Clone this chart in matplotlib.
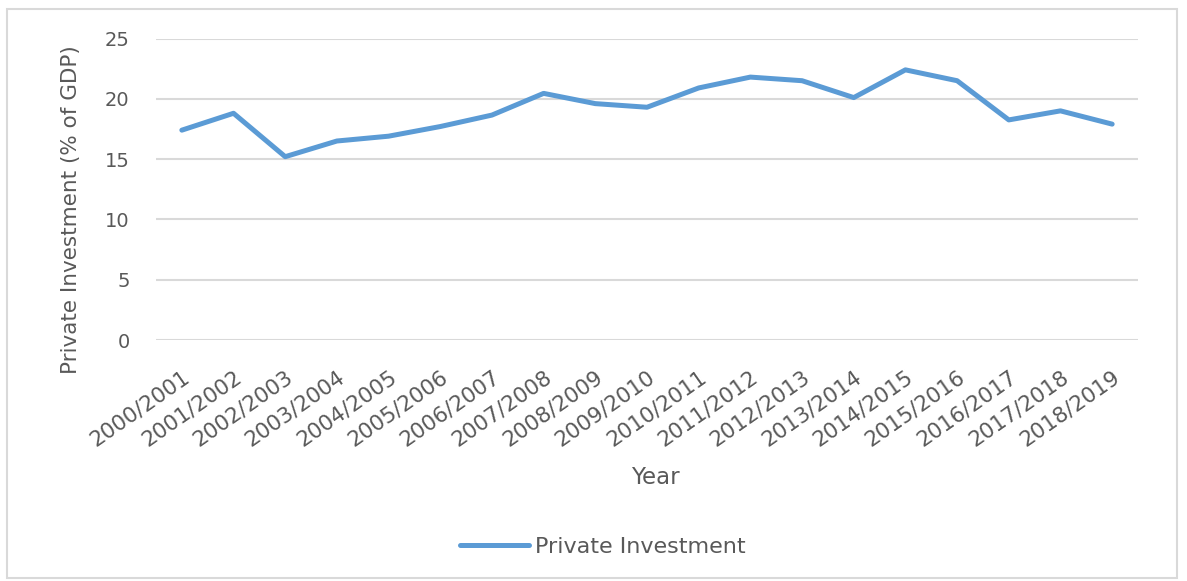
import matplotlib
import matplotlib.pyplot as plt
from matplotlib.patches import Rectangle

# Data
years = ["2000/2001", "2001/2002", "2002/2003", "2003/2004", "2004/2005",
         "2005/2006", "2006/2007", "2007/2008", "2008/2009", "2009/2010",
         "2010/2011", "2011/2012", "2012/2013", "2013/2014", "2014/2015",
         "2015/2016", "2016/2017", "2017/2018", "2018/2019"]
private_investment = [17.4, 18.8, 15.2, 16.5, 16.9, 17.7, 18.65, 20.45, 19.6, 19.3,
                      20.9, 21.8, 21.5, 20.1, 22.4, 21.5, 18.25, 19.0, 17.9]
y_ticks = [0, 5, 10, 15, 20, 25]

text_col = "#595959"
W, H = 1187, 581
matplotlib.rc('font', family=['DejaVu Sans'], size=14)

fig = plt.figure(figsize=(W / 100, H / 100), dpi=100)
ax = fig.add_axes([156 / W, 1 - 340 / H, (1138 - 156) / W, (340 - 38.5) / H])

x = list(range(len(years)))
ax.plot(x, private_investment, color="#5B9BD5", linewidth=3.6,
        solid_capstyle="round", solid_joinstyle="round", label="Private Investment")

ax.set_xlim(-0.5, len(years) - 0.5)
ax.set_ylim(0, 25)
ax.set_yticks(y_ticks)
ax.set_xticks(x)
ax.set_xticklabels(years, rotation=35, ha="right", rotation_mode="anchor", fontsize=15.5)
ax.tick_params(axis="both", length=0, colors=text_col)
ax.tick_params(axis="y", pad=19, labelsize=14)
ax.tick_params(axis="x", pad=19)
ax.grid(axis="y", color="#D9D9D9", linewidth=1.5)
ax.set_axisbelow(True)
for s in ax.spines.values():
    s.set_visible(False)

# axis titles
fig.text(71 / W, 1 - 210 / H, "Private Investment (% of GDP)", color=text_col,
         fontsize=15.5, rotation=90, ha="center", va="center")
fig.text(655 / W, 1 - 477 / H, "Year", color=text_col, fontsize=16.5,
         ha="center", va="center")

leg = fig.legend(loc="center", bbox_to_anchor=(603 / W, 1 - 547 / H),
                 frameon=False, fontsize=16, handlelength=3.1, handletextpad=0.25)
for t in leg.get_texts():
    t.set_color(text_col)

# light outer border
fig.patches.append(Rectangle((7 / W, 3 / H), 1170 / W, 569 / H,
                             transform=fig.transFigure, fill=False,
                             edgecolor="#D9D9D9", linewidth=1.5))

fig.savefig("out.png", dpi=100)
